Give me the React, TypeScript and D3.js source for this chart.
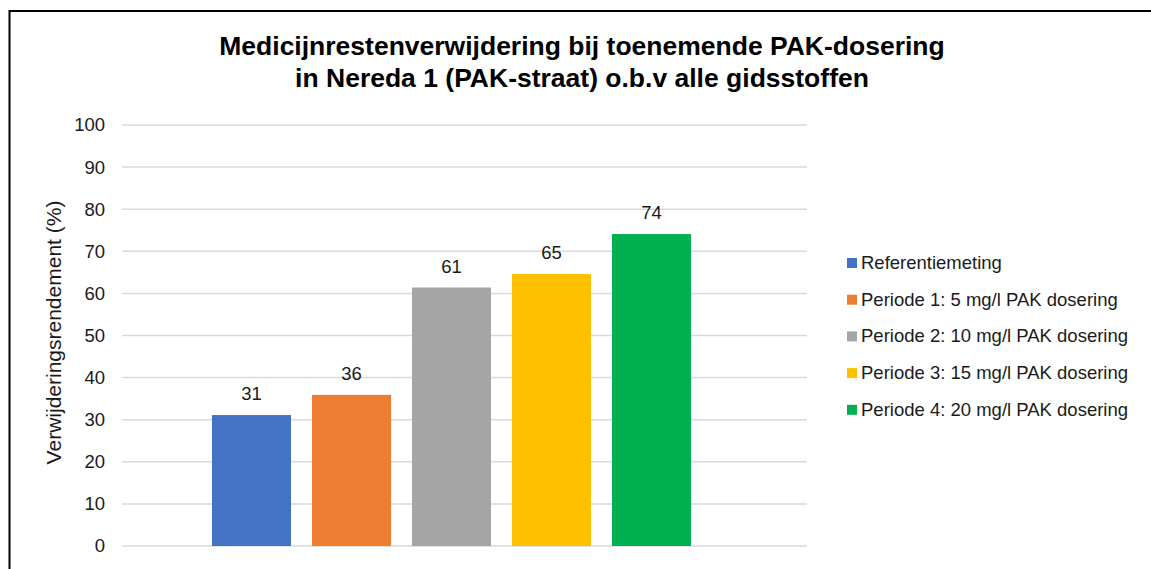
import React, { useEffect, useRef } from 'react';
import * as d3 from 'd3';

const seriesNames = [
  'Referentiemeting',
  'Periode 1: 5 mg/l PAK dosering',
  'Periode 2: 10 mg/l PAK dosering',
  'Periode 3: 15 mg/l PAK dosering',
  'Periode 4: 20 mg/l PAK dosering',
];
const seriesValues = [31.1, 35.9, 61.4, 64.6, 74.1];
const seriesColors = ['#4472c4', '#ed7d31', '#a5a5a5', '#ffc000', '#00b050'];
const yTicks = [0, 10, 20, 30, 40, 50, 60, 70, 80, 90, 100];
const titleLines = [
  'Medicijnrestenverwijdering bij toenemende PAK-dosering',
  'in Nereda 1 (PAK-straat) o.b.v alle gidsstoffen',
];
const yTitle = 'Verwijderingsrendement (%)';

const W = 1151;
const H = 569;
const FONT = "Arial, 'Liberation Sans', sans-serif";

const App: React.FC = () => {
  const ref = useRef<SVGSVGElement>(null);

  useEffect(() => {
    if (!ref.current) return;
    const svg = d3.select(ref.current);
    svg.selectAll('*').remove();

    const plot = { left: 122, right: 807, top: 125, bottom: 546 };

    const y = d3.scaleLinear().domain([0, 100]).range([plot.bottom, plot.top]);
    const x = d3.scaleBand<string>()
      .domain(seriesNames)
      .range([201.5, 701.5])
      .paddingInner(0.21)
      .paddingOuter(0.105);

    svg.append('rect').attr('width', W).attr('height', H).attr('fill', '#ffffff');

    // frame (right and bottom edges fall outside the picture)
    svg.append('path')
      .attr('d', `M9.5,${H + 2} L9.5,11 L${W + 2},11`)
      .attr('fill', 'none')
      .attr('stroke', '#000')
      .attr('stroke-width', 2);

    // title
    const title = svg.append('text')
      .attr('x', 582)
      .attr('text-anchor', 'middle')
      .style('font-family', FONT)
      .style('font-size', '26.5px')
      .style('font-weight', 'bold')
      .attr('fill', '#000');
    titleLines.forEach((t, i) => {
      title.append('tspan').attr('x', 582).attr('y', 55 + i * 32).text(t);
    });

    // gridlines
    svg.append('g')
      .selectAll('line')
      .data(yTicks)
      .join('line')
      .attr('x1', plot.left)
      .attr('x2', plot.right)
      .attr('y1', (d) => y(d))
      .attr('y2', (d) => y(d))
      .attr('stroke', '#d9d9d9')
      .attr('stroke-width', 1.5);

    // y tick labels
    svg.append('g')
      .selectAll('text')
      .data(yTicks)
      .join('text')
      .attr('x', 105)
      .attr('y', (d) => y(d))
      .attr('dy', '0.35em')
      .attr('text-anchor', 'end')
      .style('font-family', FONT)
      .style('font-size', '18.5px')
      .attr('fill', '#1a1a1a')
      .text((d) => d);

    // y axis title
    svg.append('text')
      .attr('transform', `translate(60.5,${(plot.top + plot.bottom) / 2 - 3}) rotate(-90)`)
      .attr('text-anchor', 'middle')
      .style('font-family', FONT)
      .style('font-size', '21px')
      .attr('fill', '#1a1a1a')
      .text(yTitle);

    // bars
    svg.append('g')
      .selectAll('rect')
      .data(seriesNames)
      .join('rect')
      .attr('x', (d) => x(d)!)
      .attr('width', x.bandwidth())
      .attr('y', (d, i) => y(seriesValues[i]))
      .attr('height', (d, i) => y(0) - y(seriesValues[i]))
      .attr('fill', (d, i) => seriesColors[i]);

    // data labels
    svg.append('g')
      .selectAll('text')
      .data(seriesNames)
      .join('text')
      .attr('x', (d) => x(d)! + x.bandwidth() / 2)
      .attr('y', (d, i) => y(seriesValues[i]) - 15)
      .attr('text-anchor', 'middle')
      .style('font-family', FONT)
      .style('font-size', '18.5px')
      .attr('fill', '#1a1a1a')
      .text((d, i) => Math.round(seriesValues[i]));

    // legend
    const legend = svg.append('g')
      .selectAll('g')
      .data(seriesNames)
      .join('g')
      .attr('transform', (d, i) => `translate(847,${262.5 + i * 36.7})`);
    legend.append('rect')
      .attr('x', 0)
      .attr('y', -4.5)
      .attr('width', 10)
      .attr('height', 10)
      .attr('fill', (d, i) => seriesColors[i]);
    legend.append('text')
      .attr('x', 14)
      .attr('y', 0)
      .attr('dy', '0.35em')
      .style('font-family', FONT)
      .style('font-size', '18.5px')
      .attr('fill', '#1a1a1a')
      .text((d) => d);
  }, []);

  return (
    <div style={{ position: 'absolute', left: 0, top: 0 }}>
      <svg ref={ref} width={W} height={H} style={{ display: 'block' }} />
    </div>
  );
};

export default App;
